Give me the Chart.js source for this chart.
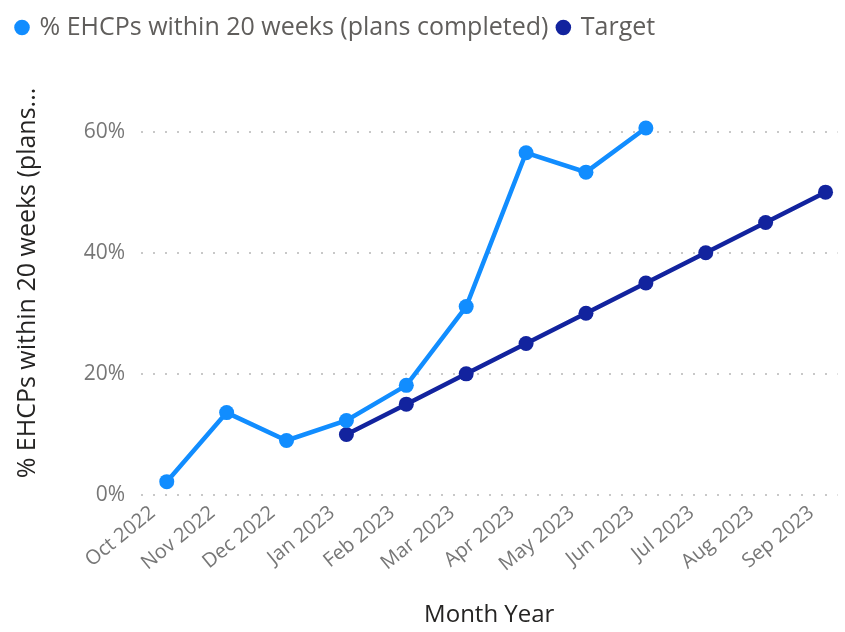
<!DOCTYPE html>
<html>
<head>
<meta charset="utf-8">
<script src="https://cdn.jsdelivr.net/npm/chart.js"></script>
<style>
  html, body { margin: 0; padding: 0; background: #fff; }
  #wrap { width: 845px; height: 632px; }
</style>
</head>
<body>
<div id="wrap"><canvas id="c" width="845" height="632"></canvas></div>
<script>
const categories = ["Oct 2022","Nov 2022","Dec 2022","Jan 2023","Feb 2023","Mar 2023","Apr 2023","May 2023","Jun 2023","Jul 2023","Aug 2023","Sep 2023"];
const completedPct = [2.2, 13.6, 9.0, 12.3, 18.1, 31.1, 56.5, 53.3, 60.6, null, null, null];
const targetPct = [null, null, null, 10, 15, 20, 25, 30, 35, 40, 45, 50];
const yTicks = [0, 20, 40, 60];
const seriesNames = ["% EHCPs within 20 weeks (plans completed)", "Target"];

const toPoints = arr => arr.map((v, i) => ({ x: i, y: v })).filter(p => p.y !== null);

const FONT = "'Open Sans', 'Noto Sans', sans-serif";

const legendSpacer = {
  id: 'legendSpacer',
  beforeInit(chart) {
    chart.ctx.letterSpacing = '0.4px';
    const origFit = chart.legend.fit;
    chart.legend.fit = function () {
      origFit.bind(chart.legend)();
      this.height += 21;
    };
  }
};

new Chart(document.getElementById('c'), {
  type: 'line',
  data: {
    datasets: [
      {
        label: seriesNames[0],
        data: toPoints(completedPct),
        borderColor: '#118DFF',
        backgroundColor: '#118DFF',
        borderWidth: 4.5,
        pointRadius: 7.5,
        pointHoverRadius: 7.5,
        pointBackgroundColor: '#118DFF',
        pointBorderWidth: 0,
        tension: 0
      },
      {
        label: seriesNames[1],
        data: toPoints(targetPct),
        borderColor: '#12239E',
        backgroundColor: '#12239E',
        borderWidth: 4.5,
        pointRadius: 7.5,
        pointHoverRadius: 7.5,
        pointBackgroundColor: '#12239E',
        pointBorderWidth: 0,
        tension: 0
      }
    ]
  },
  options: {
    responsive: false,
    animation: false,
    layout: { padding: { left: 7, right: 5, top: 5, bottom: 2 } },
    plugins: {
      tooltip: { enabled: false },
      legend: {
        position: 'top',
        align: 'start',
        labels: {
          usePointStyle: true,
          pointStyle: 'circle',
          boxWidth: 10,
          boxHeight: 11,
          padding: 10,
          color: '#605E5C',
          font: { family: FONT, size: 25 }
        }
      }
    },
    scales: {
      x: {
        type: 'linear',
        min: -0.43,
        max: 11.2,
        grid: { display: false },
        border: { display: false },
        afterBuildTicks: s => { s.ticks = categories.map((c, i) => ({ value: i })); },
        afterFit: s => { s.height = 632 - 493 - 4; },
        ticks: {
          autoSkip: false,
          maxRotation: 39,
          minRotation: 39,
          padding: -2,
          labelOffset: -14,
          color: '#777777',
          font: { family: FONT, size: 20 },
          callback: v => categories[v]
        },
        title: {
          display: true,
          text: 'Month Year',
          color: '#252423',
          font: { family: FONT, size: 24 },
          padding: { top: 0, bottom: 0 }
        }
      },
      y: {
        min: 0,
        max: 70,
        afterBuildTicks: s => { s.ticks = yTicks.map(v => ({ value: v })); },
        afterFit: s => { s.width = 141 - 7; },
        border: { display: false, dash: [2, 10] },
        grid: {
          color: '#C8C8C8',
          lineWidth: 2,
          drawTicks: false
        },
        ticks: {
          padding: 16,
          color: '#777777',
          font: { family: FONT, size: 21 },
          callback: v => v + '%'
        },
        title: {
          display: true,
          text: '% EHCPs within 20 weeks (plans...',
          color: '#252423',
          font: { family: FONT, size: 25 },
          padding: { top: 6, bottom: 0 }
        }
      }
    }
  },
  plugins: [legendSpacer]
});
</script>
</body>
</html>
